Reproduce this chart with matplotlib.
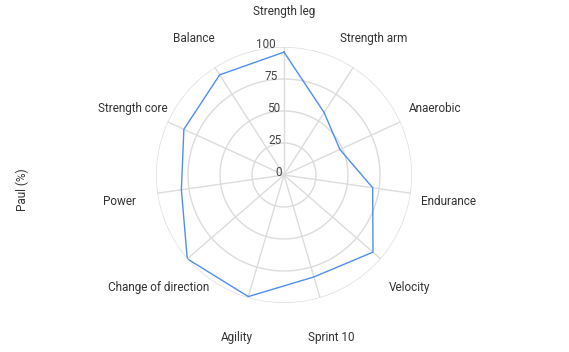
import numpy as np
import matplotlib
matplotlib.use("Agg")
import matplotlib.pyplot as plt
from matplotlib.transforms import offset_copy

plt.rcParams['font.family'] = ['Roboto', 'DejaVu Sans']

# Radar data, clockwise from the top
categories = ['Strength leg', 'Strength arm', 'Anaerobic', 'Endurance', 'Velocity',
              'Sprint 10', 'Agility', 'Change of direction', 'Power',
              'Strength core', 'Balance']
paul = [96, 58, 48, 70, 92, 83, 99, 100, 81, 86, 93]
ticks = [0, 25, 50, 75, 100]
axis_title = 'Paul (%)'

W, H = 569, 352
fig = plt.figure(figsize=(W / 100, H / 100), dpi=100)

cx, cy, R = 284, 175, 128
ax = fig.add_axes([(cx - R) / W, (H - cy - R) / H, 2 * R / W, 2 * R / H], polar=True)
ax.set_theta_zero_location('N')
ax.set_theta_direction(-1)
ax.set_ylim(0, 100)
ax.set_facecolor('none')

n = len(categories)
theta = np.arange(n) * 2 * np.pi / n

# grid: rings and spokes
grid_c = '#dcdcdc'
ax.grid(False)
ax.spines['polar'].set_visible(False)
ring_t = np.linspace(0, 2 * np.pi, 361)
for t in ticks[1:]:
    ax.plot(ring_t, [t] * len(ring_t), color=grid_c, lw=1, zorder=1)
for th in theta:
    ax.plot([th, th], [0, 100], color=grid_c, lw=1, zorder=1)
ax.set_xticks([])
ax.set_yticks([])

# text sits a couple of pixels lower than matplotlib's bbox centre
down = offset_copy(ax.transData, fig=fig, y=-2.2, units='points')

# tick labels just above the ring on the top spoke
for t in ticks:
    ax.text(np.deg2rad(-3.5) if t else np.deg2rad(-20), t + 4.5 if t else 5, str(t),
            ha='right', va='center', fontsize=8.5, color='#444444', zorder=3,
            transform=down)

# data polygon
vals = np.array(paul + paul[:1])
ths = np.append(theta, theta[0])
ax.plot(ths, vals, color='#4f8ef0', lw=1.0, zorder=4)

# category labels
for th, lab in zip(theta, categories):
    ax.text(th, 130, lab, ha='center', va='center', fontsize=8.5, color='#333333',
            clip_on=False, transform=down)

fig.text(22 / W, 1 - 190 / H, axis_title, rotation=90, ha='center', va='center',
         fontsize=8.5, color='#333333')

fig.savefig('out.png', dpi=100)
